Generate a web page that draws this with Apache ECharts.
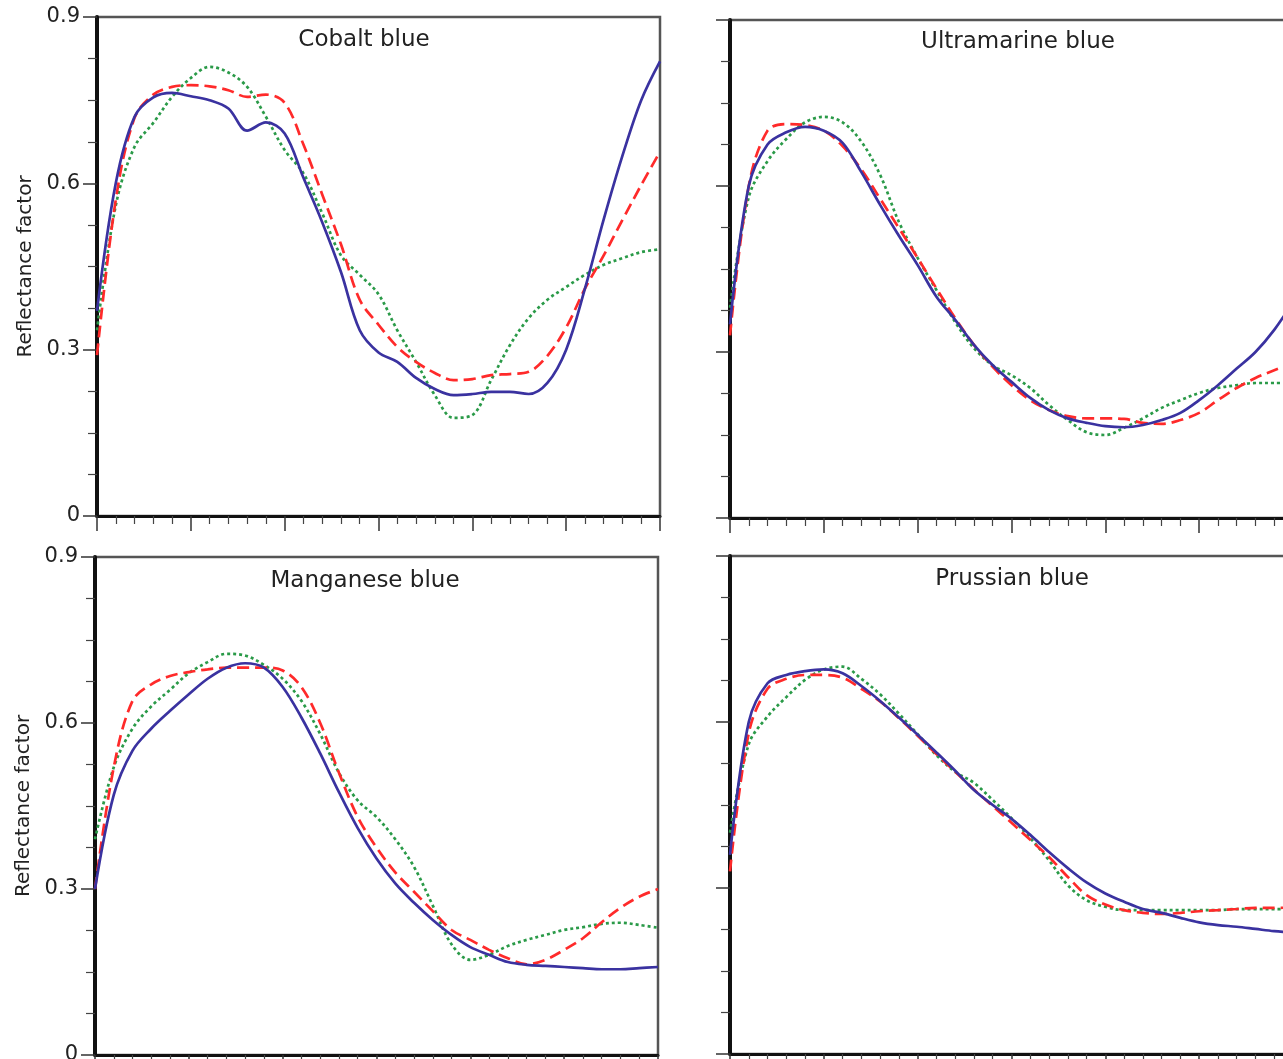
<!DOCTYPE html>
<html>
<head>
<meta charset="utf-8">
<title>Reflectance factor</title>
<script src="https://cdn.jsdelivr.net/npm/echarts@6.0.0/dist/echarts.min.js"></script>
<style>
  html, body { margin: 0; padding: 0; background: #fff; }
  #chart { width: 1283px; height: 1059px; }
</style>
</head>
<body>
<div id="chart"></div>
<script>
// wavelengths, nm
let wavelengths = [400, 410, 420, 430, 440, 450, 460, 470, 480, 490, 500, 510, 520, 530, 540, 550,
  560, 570, 580, 590, 600, 610, 620, 630, 640, 650, 660, 670, 680, 690, 700];

let panelTitles = ['Cobalt blue', 'Ultramarine blue', 'Manganese blue', 'Prussian blue'];
let yTickLabels = ['0', '0.3', '0.6', '0.9'];

// Cobalt blue
let cobaltSolid = [0.37, 0.60, 0.72, 0.755, 0.763, 0.757, 0.75, 0.735, 0.695, 0.71, 0.69, 0.61, 0.53, 0.44, 0.335, 0.295,
  0.278, 0.249, 0.229, 0.218, 0.22, 0.224, 0.224, 0.22, 0.24, 0.30, 0.41, 0.535, 0.65, 0.75, 0.82];
let cobaltDashed = [0.29, 0.57, 0.718, 0.76, 0.774, 0.777, 0.775, 0.768, 0.756, 0.76, 0.745, 0.67, 0.58, 0.49, 0.39, 0.345,
  0.305, 0.278, 0.258, 0.245, 0.247, 0.254, 0.256, 0.26, 0.289, 0.34, 0.41, 0.47, 0.534, 0.597, 0.657];
let cobaltDotted = [0.335, 0.56, 0.666, 0.709, 0.756, 0.79, 0.81, 0.80, 0.774, 0.72, 0.66, 0.618, 0.546, 0.47, 0.435, 0.40,
  0.335, 0.278, 0.218, 0.177, 0.182, 0.245, 0.308, 0.357, 0.39, 0.413, 0.435, 0.453, 0.465, 0.476, 0.481];

// Ultramarine blue
let ultraSolid = [0.35, 0.60, 0.675, 0.697, 0.707, 0.70, 0.678, 0.625, 0.566, 0.51, 0.457, 0.40, 0.358, 0.313, 0.276, 0.246,
  0.217, 0.195, 0.18, 0.172, 0.166, 0.164, 0.168, 0.177, 0.19, 0.213, 0.24, 0.27, 0.30, 0.34, 0.39];
let ultraDashed = [0.33, 0.60, 0.70, 0.712, 0.71, 0.70, 0.672, 0.63, 0.577, 0.524, 0.47, 0.415, 0.361, 0.313, 0.273, 0.24,
  0.213, 0.195, 0.184, 0.18, 0.18, 0.179, 0.172, 0.17, 0.177, 0.19, 0.213, 0.235, 0.253, 0.267, 0.28];
let ultraDotted = [0.38, 0.58, 0.645, 0.685, 0.715, 0.725, 0.715, 0.68, 0.62, 0.535, 0.47, 0.412, 0.354, 0.307, 0.276, 0.258,
  0.235, 0.204, 0.177, 0.155, 0.15, 0.163, 0.18, 0.199, 0.213, 0.226, 0.235, 0.24, 0.244, 0.244, 0.244];

// Manganese blue
let manganeseSolid = [0.30, 0.47, 0.55, 0.59, 0.622, 0.652, 0.68, 0.70, 0.708, 0.70, 0.665, 0.61, 0.545, 0.475, 0.41, 0.355,
  0.31, 0.275, 0.244, 0.217, 0.195, 0.181, 0.168, 0.163, 0.161, 0.159, 0.157, 0.155, 0.155, 0.157, 0.159];
let manganeseDashed = [0.30, 0.52, 0.64, 0.67, 0.685, 0.692, 0.697, 0.70, 0.70, 0.70, 0.695, 0.665, 0.60, 0.51, 0.43, 0.375,
  0.33, 0.295, 0.26, 0.226, 0.208, 0.19, 0.175, 0.164, 0.172, 0.19, 0.211, 0.24, 0.266, 0.286, 0.30];
let manganeseDotted = [0.39, 0.52, 0.59, 0.63, 0.66, 0.69, 0.71, 0.725, 0.722, 0.705, 0.68, 0.64, 0.58, 0.51, 0.46, 0.43,
  0.39, 0.34, 0.27, 0.20, 0.172, 0.181, 0.197, 0.208, 0.217, 0.226, 0.231, 0.237, 0.239, 0.235, 0.23];

// Prussian blue
let prussianSolid = [0.36, 0.60, 0.67, 0.685, 0.692, 0.695, 0.688, 0.665, 0.638, 0.608, 0.577, 0.545, 0.512, 0.477, 0.45, 0.425,
  0.396, 0.365, 0.336, 0.31, 0.29, 0.275, 0.262, 0.255, 0.246, 0.238, 0.233, 0.23, 0.226, 0.222, 0.22];
let prussianDashed = [0.33, 0.58, 0.66, 0.678, 0.685, 0.685, 0.68, 0.66, 0.637, 0.607, 0.575, 0.542, 0.51, 0.478, 0.448, 0.418,
  0.387, 0.356, 0.32, 0.287, 0.27, 0.26, 0.255, 0.253, 0.255, 0.258, 0.26, 0.262, 0.264, 0.264, 0.265];
let prussianDotted = [0.40, 0.56, 0.61, 0.645, 0.676, 0.695, 0.70, 0.678, 0.65, 0.615, 0.578, 0.54, 0.51, 0.49, 0.459, 0.426,
  0.39, 0.35, 0.305, 0.278, 0.266, 0.26, 0.26, 0.26, 0.26, 0.26, 0.26, 0.262, 0.262, 0.262, 0.262];

let panelData = [
  [cobaltSolid, cobaltDashed, cobaltDotted],
  [ultraSolid, ultraDashed, ultraDotted],
  [manganeseSolid, manganeseDashed, manganeseDotted],
  [prussianSolid, prussianDashed, prussianDotted]
];

// grid boxes in px (right column runs past the window edge, like the reference)
let boxes = [
  {left: 97, top: 17, width: 563, height: 499},
  {left: 730, top: 20, width: 563, height: 498},
  {left: 95, top: 557, width: 563, height: 498},
  {left: 730, top: 556, width: 563, height: 498}
];
// title centres, px
let titlePos = [[364, 40], [1018, 42], [365, 581], [1012, 579]];

let lineStyles = [
  {color: '#3a32a0', width: 2.7, type: 'solid'},
  {color: '#ff2a2a', width: 2.7, type: [12, 6]},
  {color: '#2a9a48', width: 2.7, type: [3, 3]}
];

let textColor = '#222';
let fontFamily = 'DejaVu Sans';

let chart = echarts.init(document.getElementById('chart'));

let grids = [], xAxes = [], yAxes = [], texts = [], series = [];

boxes.forEach(function (b, i) {
  let leftCol = (i % 2 === 0);
  grids.push({
    left: b.left, top: b.top, width: b.width, height: b.height,
    outerBoundsMode: 'none',
    show: true, borderColor: '#555', borderWidth: 2.5, backgroundColor: 'transparent'
  });
  xAxes.push({
    gridIndex: i, type: 'value', min: 400, max: 700, interval: 50,
    axisLine: {show: true, onZero: false, lineStyle: {color: '#111', width: 3}},
    axisTick: {show: true, inside: false, length: 15, lineStyle: {color: '#333', width: 1.5}},
    minorTick: {show: true, splitNumber: 5, length: 8, lineStyle: {color: '#444', width: 1.2}},
    axisLabel: {show: false},
    splitLine: {show: false}
  });
  yAxes.push({
    gridIndex: i, type: 'value', min: 0, max: 0.9, interval: 0.3,
    name: leftCol ? 'Reflectance factor' : '',
    nameLocation: 'middle', nameGap: 61,
    nameTextStyle: {color: textColor, fontSize: 20, fontFamily: fontFamily},
    axisLine: {show: true, onZero: false, lineStyle: {color: '#111', width: 4}},
    axisTick: {show: true, inside: false, length: 14, lineStyle: {color: '#333', width: 1.5}},
    minorTick: {show: true, splitNumber: 4, length: 9, lineStyle: {color: '#444', width: 1.2}},
    axisLabel: {
      show: leftCol, margin: 17, color: textColor, fontSize: 21, fontFamily: fontFamily,
      formatter: function (v) { return yTickLabels[Math.round(v / 0.3)]; }
    },
    splitLine: {show: false}
  });
  texts.push({
    type: 'text', x: titlePos[i][0], y: titlePos[i][1], z: 10,
    style: {
      text: panelTitles[i], fill: textColor, fontSize: 23, fontFamily: fontFamily,
      textAlign: 'center', textVerticalAlign: 'middle'
    }
  });
  panelData[i].forEach(function (vals, k) {
    series.push({
      type: 'line', xAxisIndex: i, yAxisIndex: i,
      data: wavelengths.map(function (w, j) { return [w, vals[j]]; }),
      showSymbol: false, smooth: 0.35, z: 3 - k,
      lineStyle: lineStyles[k]
    });
  });
});

chart.setOption({
  backgroundColor: '#fff',
  animation: false,
  graphic: texts,
  grid: grids,
  xAxis: xAxes,
  yAxis: yAxes,
  series: series
});
</script>
</body>
</html>
